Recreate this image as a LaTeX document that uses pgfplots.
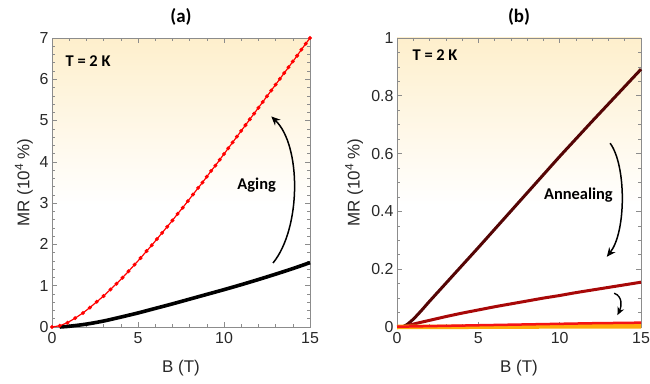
\documentclass[border=0pt]{standalone}
\usepackage{pgfplots}
\pgfplotsset{compat=1.18}
\usepackage{fontspec}
\setmainfont{Liberation Sans}
\newfontfamily\calfont{Carlito}
\usetikzlibrary{arrows.meta}
\definecolor{framegray}{RGB}{140,140,140}
\definecolor{ticktext}{RGB}{40,40,40}
\definecolor{bgtop}{RGB}{254,239,204}
\definecolor{maroon1}{RGB}{85,5,5}
\definecolor{red2}{RGB}{168,8,8}
\definecolor{red3}{RGB}{245,20,20}
\definecolor{orange4}{RGB}{255,170,10}
\pgfdeclareverticalshading{mrbg}{100bp}{color(0bp)=(white); color(46bp)=(white); color(75bp)=(bgtop); color(100bp)=(bgtop)}

\pgfplotstableread{
B MR
0 0
0.45 0.03
0.9 0.105
1.35 0.215
1.8 0.34
2.2 0.47
2.6 0.61
3.0 0.75
3.4 0.91
3.75 1.05
4.1 1.195
4.45 1.35
4.8 1.51
5.15 1.67
5.5 1.84
5.8 1.98
6.1 2.13
6.4 2.28
6.7 2.43
7.0 2.58
7.3 2.74
7.6 2.89
7.9 3.05
8.2 3.21
8.5 3.37
8.75 3.50
9.0 3.64
9.25 3.78
9.5 3.91
9.75 4.05
10.0 4.19
10.25 4.33
10.5 4.47
10.75 4.61
11.0 4.75
11.25 4.89
11.5 5.03
11.75 5.17
12.0 5.31
12.25 5.45
12.5 5.59
12.75 5.73
13.0 5.87
13.25 6.01
13.5 6.15
13.75 6.29
14.0 6.43
14.25 6.57
14.5 6.72
14.75 6.86
15.0 7.0
}\aged

\pgfplotstableread{
B MR
0.45 0.0
1 0.018
2 0.07
3 0.145
4 0.24
5 0.34
6 0.45
7 0.56
8 0.675
9 0.79
10 0.905
11 1.025
12 1.15
13 1.28
14 1.415
15 1.56
}\fresh

\pgfplotstableread{
B MR
0.3 0
0.6 0.008
1 0.027
1.5 0.057
2 0.089
3 0.151
4 0.213
5 0.275
6 0.338
7 0.401
8 0.464
9 0.527
10 0.59
11 0.651
12 0.712
13 0.772
14 0.832
15 0.892
}\annA

\pgfplotstableread{
B MR
0.4 0
1 0.01
2 0.023
3 0.036
4 0.048
5 0.059
6 0.07
7 0.08
8 0.09
9 0.1
10 0.109
11 0.119
12 0.128
13 0.137
14 0.146
15 0.155
}\annB

\pgfplotstableread{
B MR
0 0.001
3 0.004
6 0.007
9 0.010
12 0.013
15 0.015
}\annC

\pgfplotstableread{
B MR
0 0.0
5 0.001
10 0.002
15 0.0025
}\annD

\begin{document}
\begin{tikzpicture}[x=1bp,y=1bp]
\useasboundingbox (0,0) rectangle (650,383);
\pgfplotsset{
  mrstyle/.style={
    scale only axis,
    height=289bp,
    xmin=0, xmax=15,
    xtick={0,5,10,15},
    minor x tick num=4,
    ymin=0,
    tick pos=both,
    tick align=inside,
    major tick length=5bp,
    minor tick length=3bp,
    axis line style={framegray, line width=0.7pt},
    every tick/.style={framegray, line width=0.6pt},
    axis background/.style={shade, shading=mrbg},
    /pgf/number format/assume math mode=true,
    ticklabel style={font=\fontsize{16}{17}\selectfont, text=ticktext},
    xticklabel style={yshift=-2bp},
    xlabel={B (T)},
    ylabel={MR (10\textsuperscript{4} \%)},
    every axis x label/.append style={at={(axis description cs:0.5,-0.142)}, anchor=center, font=\fontsize{17}{18}\selectfont, text=ticktext},
    every axis y label/.append style={font=\fontsize{17}{18}\selectfont, text=ticktext},
    title style={font=\calfont\bfseries\fontsize{19}{20}\selectfont, at={(axis description cs:0.5,1.052)}, anchor=center},
    clip=false,
  }
}
% ---------------- (a) ----------------
\begin{axis}[mrstyle,
  at={(52bp,56bp)}, anchor=south west,
  width=258bp,
  ymax=7,
  ytick={0,1,2,3,4,5,6,7},
  minor y tick num=4,
  every axis y label/.append style={at={(axis description cs:-0.109,0.5)}, anchor=center},
  title={(a)},
]
\addplot[black, line width=3.6bp, smooth] table[x=B,y=MR] {\fresh};
\addplot[red, line width=1.2bp, mark=*, mark size=1.3bp, mark options={fill=red, draw=red}] table[x=B,y=MR] {\aged};
\draw[-{Stealth[length=9bp,width=8bp]}, line width=1.5bp] (axis cs:12.85,1.55) .. controls (axis cs:14.5,2.4) and (axis cs:14.5,4.4) .. (axis cs:12.75,5.1);
\node[font=\calfont\bfseries\fontsize{16.5}{18}\selectfont] at (axis cs:11.9,3.44) {Aging};
\node[font=\calfont\bfseries\fontsize{16.5}{18}\selectfont] at (axis cs:2.1,6.45) {T = 2 K};
\end{axis}
% ---------------- (b) ----------------
\begin{axis}[mrstyle,
  at={(397bp,56bp)}, anchor=south west,
  width=244bp,
  ymax=1,
  ytick={0,0.2,0.4,0.6,0.8,1},
  minor y tick num=3,
  yticklabel style={/pgf/number format/fixed},
  every axis y label/.append style={at={(axis description cs:-0.176,0.5)}, anchor=center},
  title={(b)},
]
\addplot[maroon1, line width=3bp, smooth] table[x=B,y=MR] {\annA};
\addplot[red2, line width=3bp, smooth] table[x=B,y=MR] {\annB};
\addplot[orange4, line width=4.5bp] table[x=B,y=MR] {\annD};
\addplot[red3, line width=2.5bp] table[x=B,y=MR] {\annC};
\draw[-{Stealth[length=9bp,width=8bp]}, line width=1.5bp] (axis cs:13.1,0.636) .. controls (axis cs:14.1,0.56) and (axis cs:14.1,0.33) .. (axis cs:12.9,0.243);
\draw[-{Stealth[length=8bp,width=7bp]}, line width=1.4bp] (axis cs:13.35,0.117) .. controls (axis cs:13.9,0.105) and (axis cs:13.8,0.07) .. (axis cs:13.55,0.041);
\node[font=\calfont\bfseries\fontsize{16.5}{18}\selectfont] at (axis cs:11.15,0.457) {Annealing};
\node[font=\calfont\bfseries\fontsize{16.5}{18}\selectfont] at (axis cs:2.34,0.94) {T = 2 K};
\end{axis}
\end{tikzpicture}
\end{document}
